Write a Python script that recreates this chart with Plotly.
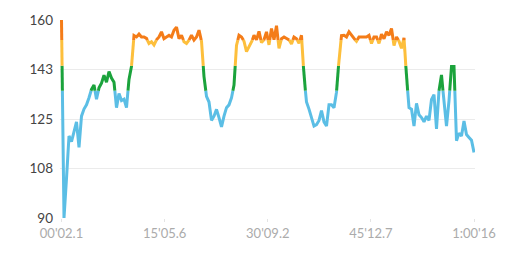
import numpy as np
import plotly.graph_objects as go

# Heart-rate samples (bpm), evenly sampled from 00'02.1 to 1:00'16
hr_values = [
    160, 90, 104, 119, 117, 121, 124, 115, 126, 128.5,
    130, 132.5, 135.5, 137, 132, 136, 137.7, 140.5, 138, 141.8,
    139.5, 138, 129, 134, 131.5, 132, 129, 139, 143.6, 154.5,
    154, 155, 154, 154, 153.5, 151.7, 152.3, 151.2, 153, 154,
    155.8, 153.4, 154, 154.6, 154, 156.4, 157.5, 153.4, 154.6, 152.3,
    151.7, 152.9, 154.6, 152.9, 154, 156.4, 152.5, 140, 133, 131,
    124.5, 126, 128.4, 125.5, 122.2, 126, 129, 130, 132.5, 137,
    151, 154.6, 154, 152.5, 148.8, 150.6, 152, 154.6, 153, 156,
    152, 153, 155.8, 151.2, 157, 153, 158, 150, 153.4, 154,
    153.5, 153, 151.5, 154, 153.4, 151.8, 154.6, 140, 131, 128.5,
    125.5, 122.5, 123, 124.5, 128, 124, 122.5, 130, 130, 129,
    134.5, 146, 154.5, 154.6, 154, 155.8, 154.5, 153.4, 152.5, 154,
    154, 154, 154, 154.6, 151.7, 154, 154, 151.7, 155, 153.4,
    155.8, 154.6, 157, 151, 154, 152.5, 150, 153.7, 140, 129,
    128.5, 122.5, 130.5, 126.5, 125.5, 124, 126, 124.5, 131.9, 133.6,
    121.5, 135, 140.6, 131, 122.5, 131.5, 143.6, 143.6, 117.3, 120,
    119, 124.3, 119.5, 118.5, 117.5, 113.2,
]
start_s = 2.1
end_s = 3616.0
times = np.linspace(start_s, end_s, len(hr_values))

# Heart-rate zone thresholds and colours
zone_edges = [135.0, 143.8, 152.9]
zone_colors = ["#5BBEE5", "#1BA33C", "#FDBF3C", "#F47C18"]

x_tick_vals = [2.1, 905.6, 1809.2, 2712.7, 3616.0]
x_tick_text = ["00'02.1", "15'05.6", "30'09.2", "45'12.7", "1:00'16"]
y_tick_vals = [90, 107.5, 125, 142.5, 160]
y_tick_text = ["90", "108", "125", "143", "160"]


def zone_of(v):
    z = 0
    for e in zone_edges:
        if v > e:
            z += 1
    return z


# insert threshold crossing points
pts = [(times[0], hr_values[0])]
for k in range(1, len(hr_values)):
    t0, v0 = times[k - 1], hr_values[k - 1]
    t1, v1 = times[k], hr_values[k]
    cross = []
    for e in zone_edges:
        if (v0 - e) * (v1 - e) < 0:
            f = (e - v0) / (v1 - v0)
            cross.append((f, t0 + f * (t1 - t0), e))
    cross.sort()
    for _, tc, ec in cross:
        pts.append((tc, ec))
    pts.append((t1, v1))

fig = go.Figure()
for z, col in enumerate(zone_colors):
    xs, ys = [], []
    last = None
    for k in range(len(pts) - 1):
        a, b = pts[k], pts[k + 1]
        mid = (a[1] + b[1]) / 2
        if zone_of(mid) != z:
            continue
        if last != k:
            if xs:
                xs.append(None)
                ys.append(None)
            xs.append(a[0])
            ys.append(a[1])
        xs.append(b[0])
        ys.append(b[1])
        last = k + 1
    fig.add_trace(go.Scatter(x=xs, y=ys, mode="lines",
                             line=dict(color=col, width=3),
                             hoverinfo="skip", showlegend=False))

sec_per_px = (end_s - start_s) / 412.5
fig.update_layout(
    width=512, height=254,
    margin=dict(l=60, r=37, t=18, b=36),
    paper_bgcolor="white", plot_bgcolor="white",
    font=dict(family="Lato, sans-serif", size=13),
    xaxis=dict(
        range=[start_s - 1.5 * sec_per_px, end_s + 1.0 * sec_per_px],
        tickvals=x_tick_vals, ticktext=x_tick_text,
        showgrid=False, zeroline=False, showline=False,
        ticks="outside", ticklen=3, tickcolor="#e4e4e4",
        tickfont=dict(color="#ababab", size=13),
    ),
    yaxis=dict(
        range=[90, 160],
        tickvals=y_tick_vals, ticktext=y_tick_text,
        showgrid=True, gridcolor="#ebebeb", gridwidth=1,
        zeroline=False, showline=False,
        ticklabelstandoff=6,
        tickfont=dict(color="#444444", size=13.5),
    ),
)

fig.write_html("out.html")
